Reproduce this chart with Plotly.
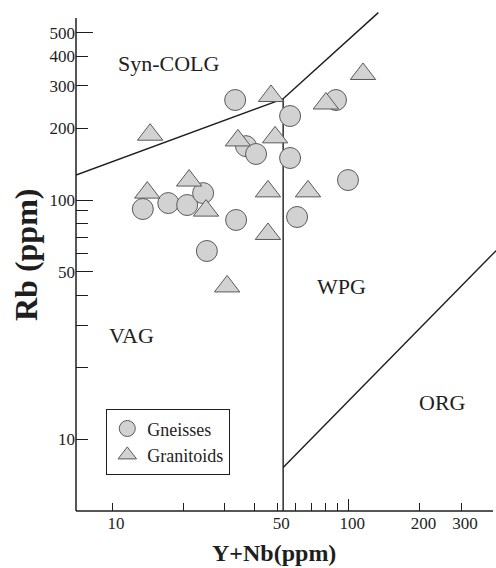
import math
import plotly.graph_objects as go

# Sample compositions (ppm)
gneiss_ynb = [13.5, 17.3, 20.8, 24.3, 33.2, 36.9, 40.7, 33.5, 25.2, 56.7, 56.7, 60.7, 88.7, 99.7]
gneiss_rb = [91.7, 97.1, 95.3, 106.9, 262, 168, 155.8, 82.5, 61.2, 224.6, 149.9, 84.9, 262, 121.2]

granit_ynb = [14.5, 14.1, 21.2, 25.0, 30.7, 34.1, 47.1, 49.0, 45.7, 45.7, 67.5, 80.4, 115.4]
granit_rb = [187.6, 107.4, 120.6, 90.3, 43.5, 177.5, 272.4, 182.9, 108.7, 72.1, 108.7, 253.4, 336.7]

# Discrimination boundaries (Y+Nb, Rb)
syncolg_vag_x = [7.04, 53.0]
syncolg_vag_y = [127.1, 265.0]
syncolg_wpg_x = [53.0, 134.0]
syncolg_wpg_y = [265.0, 608.0]
vag_wpg_x = [53.0, 53.0]
vag_wpg_y = [5.0, 265.0]
wpg_org_x = [53.0, 422.0]
wpg_org_y = [7.61, 61.4]

# Axis ticks
x_major = [10, 50, 100, 200, 300]
x_minor = [20, 30, 40, 60, 70, 80, 90]
y_short = [10, 200, 300, 400]
y_long = [50, 100, 500]
y_minor = [20, 30, 40, 60, 70, 80, 90]

region_labels = ["Syn-COLG", "VAG", "WPG", "ORG"]

W, H = 496, 568
L, B = 76, 57
PW, PH = W - L, H - B
x_range = [math.log10(7.04), 2.6251]
y_range = [math.log10(5.0), 2.8368]

SERIF = "Liberation Serif"
INK = "#1e1e1e"
FILL = "#d2d2d2"
EDGE = "#5a5a5a"

fig = go.Figure()

line_style = dict(color=INK, width=1.4)
for bx, by in [(syncolg_vag_x, syncolg_vag_y), (syncolg_wpg_x, syncolg_wpg_y),
               (vag_wpg_x, vag_wpg_y), (wpg_org_x, wpg_org_y)]:
    fig.add_trace(go.Scatter(x=bx, y=by, mode="lines", line=line_style,
                             showlegend=False, hoverinfo="skip"))

fig.add_trace(go.Scatter(
    x=gneiss_ynb, y=gneiss_rb, mode="markers", name="Gneisses",
    marker=dict(symbol="circle", size=21, color=FILL, line=dict(color=EDGE, width=1)),
))
fig.add_trace(go.Scatter(
    x=granit_ynb, y=granit_rb, mode="markers", name="Granitoids",
    marker=dict(symbol="triangle-up", size=22, color=FILL, line=dict(color=EDGE, width=1)),
))


def px_to_paper(px, py):
    return (px - L) / PW, 1 - py / PH


# Region names
for text, (px, py) in zip(region_labels, [(169, 63), (131, 335), (341, 286), (442, 402)]):
    ax, ay = px_to_paper(px, py)
    fig.add_annotation(x=ax, y=ay, xref="paper", yref="paper", text=text,
                       showarrow=False, font=dict(family=SERIF, size=22, color=INK),
                       xanchor="center", yanchor="middle")

# Axis titles
tx, ty = px_to_paper(274, 553)
fig.add_annotation(x=tx, y=ty, xref="paper", yref="paper", text="<b>Y+Nb(ppm)</b>",
                   showarrow=False, font=dict(family=SERIF, size=24, color=INK),
                   xanchor="center", yanchor="middle")
tx, ty = px_to_paper(26, 255)
fig.add_annotation(x=tx, y=ty, xref="paper", yref="paper", text="<b>Rb (ppm)</b>",
                   showarrow=False, textangle=-90,
                   font=dict(family=SERIF, size=32, color=INK),
                   xanchor="center", yanchor="middle")

# Axis lines
x_end, _ = px_to_paper(493, 0)
_, y_end = px_to_paper(0, 18)
fig.add_shape(type="line", xref="paper", yref="paper", x0=0, y0=0, x1=x_end, y1=0,
              line=dict(color=INK, width=1.5))
fig.add_shape(type="line", xref="paper", yref="paper", x0=0, y0=0, x1=0, y1=y_end,
              line=dict(color=INK, width=1.5))

tick_font = dict(family=SERIF, size=17, color=INK)
fig.update_layout(
    width=W, height=H,
    margin=dict(l=L, r=0, t=0, b=B),
    paper_bgcolor="white", plot_bgcolor="white",
    font=dict(family=SERIF, color=INK),
    showlegend=True,
    legend=dict(
        x=px_to_paper(106, 0)[0], y=px_to_paper(0, 409)[1],
        xanchor="left", yanchor="top",
        bordercolor=INK, borderwidth=1.3, bgcolor="white",
        font=dict(family=SERIF, size=18, color=INK),
        tracegroupgap=0, itemsizing="trace",
    ),
    xaxis=dict(
        type="log", range=x_range, showline=False, showgrid=False, zeroline=False,
        tickmode="array", tickvals=x_major, ticktext=[str(v) for v in x_major],
        ticks="inside", ticklen=8, tickwidth=1.3, tickcolor=INK,
        ticklabelshift=4, tickfont=tick_font,
        minor=dict(tickmode="array", tickvals=x_minor, ticks="inside", ticklen=8,
                   tickwidth=1.3, tickcolor=INK, showgrid=False),
    ),
    xaxis2=dict(
        type="log", range=x_range, overlaying="x", anchor="y", side="bottom",
        showline=False, showgrid=False, zeroline=False, showticklabels=False,
        tickmode="array", tickvals=[100], ticks="inside", ticklen=12,
        tickwidth=1.3, tickcolor=INK,
    ),
    yaxis=dict(
        type="log", range=y_range, showline=False, showgrid=False, zeroline=False,
        tickmode="array", tickvals=y_short, ticktext=[str(v) for v in y_short],
        ticks="inside", ticklen=12, tickwidth=1.3, tickcolor=INK, tickfont=tick_font,
        minor=dict(tickmode="array", tickvals=y_minor, ticks="inside", ticklen=12,
                   tickwidth=1.3, tickcolor=INK, showgrid=False),
    ),
    yaxis2=dict(
        type="log", range=y_range, overlaying="y", anchor="x", side="left",
        showline=False, showgrid=False, zeroline=False,
        tickmode="array", tickvals=y_long, ticktext=[str(v) for v in y_long],
        ticks="inside", ticklen=17, tickwidth=1.3, tickcolor=INK, tickfont=tick_font,
    ),
)

# Empty trace so the overlay axes are drawn
fig.add_trace(go.Scatter(x=[None], y=[None], xaxis="x2", yaxis="y2",
                         showlegend=False, hoverinfo="skip"))

fig.write_html("out.html")
